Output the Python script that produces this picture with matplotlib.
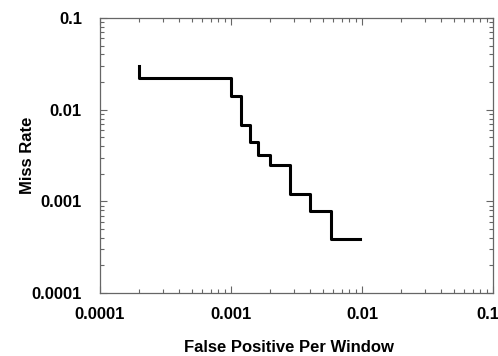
import numpy as np
import matplotlib.pyplot as plt
import matplotlib.ticker as mticker
import matplotlib.transforms as mtrans

plt.rcParams['font.family'] = ['Liberation Sans', 'DejaVu Sans']

# miss rate vs false positives per window (step curve)
fppw = [0.0002, 0.0002, 0.001, 0.00119, 0.0014, 0.0016, 0.002, 0.0028, 0.004, 0.0058, 0.0096]
miss = [0.030, 0.022, 0.0142, 0.0068, 0.0044, 0.0032, 0.0025, 0.0012, 0.00079, 0.00039, 0.00039]

tickVals = [0.0001, 0.001, 0.01, 0.1]
tickLabels = ['0.0001', '0.001', '0.01', '0.1']

figure = plt.figure(figsize=(4.98, 3.56), dpi=100)
axis = figure.add_axes([100 / 498, 1 - 293 / 356, 393 / 498, 275 / 356])

axis.plot(fppw, miss, drawstyle='steps-post', color='black', linewidth=2.2)

axis.set_xscale('log')
axis.set_yscale('log')
axis.set_xlim(0.0001, 0.1)
axis.set_ylim(0.0001, 0.1)

axis.set_xticks(tickVals)
axis.set_xticklabels(tickLabels)
axis.set_yticks(tickVals)
axis.set_yticklabels(tickLabels)
axis.xaxis.set_minor_locator(mticker.LogLocator(base=10, subs=np.arange(2, 10)))
axis.yaxis.set_minor_locator(mticker.LogLocator(base=10, subs=np.arange(2, 10)))
axis.xaxis.set_minor_formatter(mticker.NullFormatter())
axis.yaxis.set_minor_formatter(mticker.NullFormatter())

axis.tick_params(which='both', direction='in', top=True, right=True, color='#666666', width=0.8)
axis.tick_params(which='major', length=5, labelsize=12)
axis.tick_params(axis='x', which='major', pad=10)
axis.tick_params(axis='y', which='major', pad=13)
axis.tick_params(which='minor', length=3)
for label in axis.get_xticklabels() + axis.get_yticklabels():
	label.set_fontweight('bold')
# last x label sits at the right edge of the picture
lastLabel = axis.get_xticklabels()[-1]
lastLabel.set_transform(lastLabel.get_transform() + mtrans.ScaledTranslation(-5 / 100, 0, figure.dpi_scale_trans))

for spine in axis.spines.values():
	spine.set_color('#666666')
	spine.set_linewidth(0.9)

axis.set_xlabel('False Positive Per Window', fontsize=12, fontweight='bold')
axis.set_ylabel('Miss Rate', fontsize=12, fontweight='bold')
axis.xaxis.set_label_coords(0.48, -0.171)
axis.yaxis.set_label_coords(-0.165, 0.5)

plt.savefig('out.png', dpi=100)
plt.close()
